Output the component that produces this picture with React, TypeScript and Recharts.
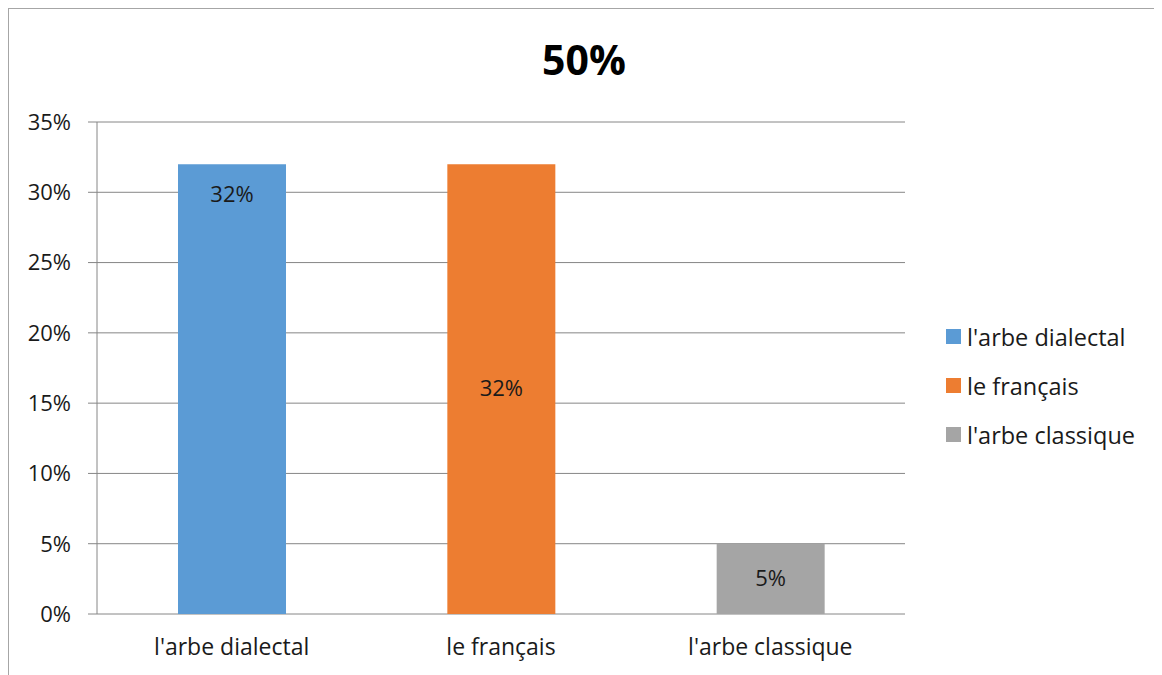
import { BarChart, Bar, XAxis, YAxis, CartesianGrid, Cell, LabelList } from 'recharts'

const categories = ["l'arbe dialectal", 'le français', "l'arbe classique"]
const values = [0.32, 0.32, 0.05]
const colors = ['#5b9bd5', '#ed7d31', '#a5a5a5']
const yTicks = [0, 0.05, 0.1, 0.15, 0.2, 0.25, 0.3, 0.35]
const boundaryTicks = [0, 1, 2, 3]
const title = '50%'

const FONT = "'Open Sans', 'Noto Sans', sans-serif"
const AXIS = '#868686'
const TXT = '#1a1a1a'

const data = categories.map((name, i) => ({ name, value: values[i], pos: i + 0.5 }))

const pct = (v: number) => `${Math.round(v * 100)}%`

// first bar has its label near the top, the others centred like in the original
const renderLabel = (props: any) => {
  const { x, y, width, height, value, index } = props
  const cy = index === 0 ? y + 29 : y + height / 2 - 2
  return (
    <text x={x + width / 2} y={cy} textAnchor="middle" dominantBaseline="central"
      fontSize={22} fontFamily={FONT} fill={TXT}>
      {pct(value)}
    </text>
  )
}

export default function App() {
  return (
    <div style={{ position: 'relative', width: 1150, height: 680, border: '1px solid #a6a6a6', background: '#fff', fontFamily: FONT }}>
      <div style={{ position: 'absolute', left: 0, top: 22, width: 1150, textAlign: 'center', fontSize: 41, fontWeight: 700, color: '#000' }}>
        {title}
      </div>
      <BarChart width={1150} height={670} data={data} margin={{ top: 113, right: 254, left: 0, bottom: 25 }}>
        <CartesianGrid vertical={false} stroke={AXIS} strokeWidth={1} />
        <XAxis xAxisId="b" type="number" dataKey="pos" domain={[0, 3]} ticks={boundaryTicks}
          height={0} tick={() => <g />} tickSize={10} tickLine={{ stroke: AXIS }} axisLine={{ stroke: AXIS }} />
        <XAxis dataKey="name" height={40} tickLine={false} axisLine={false} tickMargin={19}
          tick={{ fill: TXT, fontSize: 23, fontFamily: FONT }} />
        <YAxis domain={[0, 0.35]} ticks={yTicks} tickFormatter={pct} width={88} tickSize={9} tickMargin={17}
          tickLine={{ stroke: AXIS }} axisLine={{ stroke: AXIS }}
          tick={{ fill: TXT, fontSize: 22, fontFamily: FONT }} />
        <Bar dataKey="value" barSize={108} isAnimationActive={false}>
          {data.map((d, i) => <Cell key={d.name} fill={colors[i]} />)}
          <LabelList dataKey="value" content={renderLabel} />
        </Bar>
      </BarChart>
      <div style={{ position: 'absolute', left: 937, top: 303 }}>
        {categories.map((c, i) => (
          <div key={c} style={{ display: 'flex', alignItems: 'center', height: 49, fontSize: 23.5, color: TXT }}>
            <span style={{ width: 15, height: 15, background: colors[i], marginRight: 6 }} />
            {c}
          </div>
        ))}
      </div>
    </div>
  )
}
